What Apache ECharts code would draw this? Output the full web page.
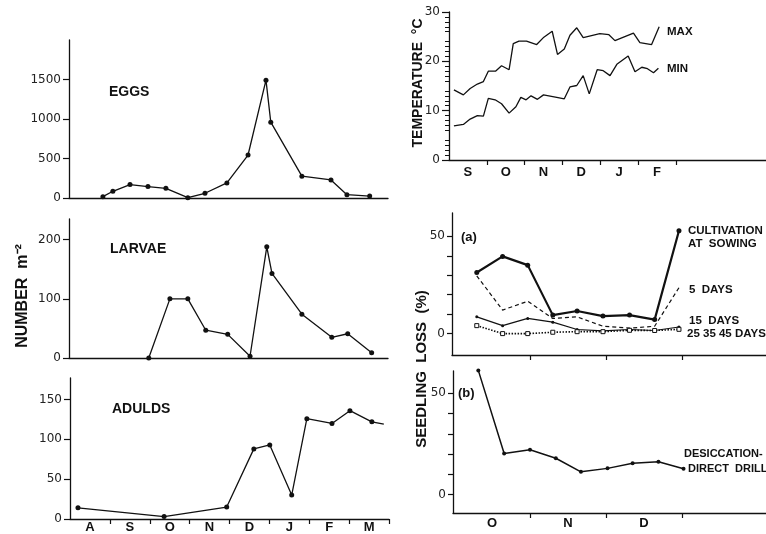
<!DOCTYPE html>
<html>
<head>
<meta charset="utf-8">
<script src="https://cdn.jsdelivr.net/npm/echarts@6/dist/echarts.min.js"></script>
<style>
  html, body { margin: 0; padding: 0; background: #fff; }
  #chart { width: 766px; height: 534px; }
</style>
</head>
<body>
<div id="chart"></div>
<script>
// month positions are in months from the start of the axis (Aug / Sep / Oct)
const seasonMonths = ['A', 'S', 'O', 'N', 'D', 'J', 'F', 'M'];
const tempMonths = ['S', 'O', 'N', 'D', 'J', 'F'];
const sowingMonths = ['O', 'N', 'D'];

const eggsMonth = [0.85, 1.10, 1.53, 1.98, 2.43, 2.98, 3.41, 3.96, 4.49, 4.94, 5.06, 5.84, 6.57, 6.97, 7.54];
const eggsValue = [17, 85, 170, 145, 123, 4, 60, 191, 544, 1492, 960, 276, 229, 42, 25];

const larvaeMonth = [2.00, 2.53, 2.98, 3.43, 3.98, 4.54, 4.96, 5.09, 5.84, 6.59, 6.99, 7.59];
const larvaeValue = [0, 100, 100, 47, 40, 3, 188, 143, 74, 35, 41, 9];

const adultsMonth = [0.20, 2.36, 3.93, 4.61, 5.01, 5.56, 5.94, 6.57, 7.02, 7.57, 7.87];
const adultsValue = [14, 3, 15, 88, 93, 30, 126, 120, 136, 122, 119];

const tempMaxMonth = [0.13, 0.38, 0.56, 0.75, 0.91, 1.04, 1.23, 1.39, 1.59, 1.70, 1.85, 2.05, 2.32, 2.51,
  2.73, 2.87, 3.05, 3.20, 3.38, 3.55, 3.99, 4.23, 4.39, 4.88, 5.05, 5.36, 5.56];
const tempMax = [14.2, 13.2, 14.5, 15.4, 15.9, 18.0, 18.0, 19.1, 18.3, 23.6, 24.1, 24.1, 23.4, 24.9,
  26.1, 21.4, 22.5, 25.3, 26.8, 24.8, 25.6, 25.4, 24.2, 25.7, 23.8, 23.4, 27.0];

const tempMinMonth = [0.13, 0.38, 0.56, 0.75, 0.91, 1.04, 1.22, 1.39, 1.59, 1.77, 1.90, 2.04, 2.17, 2.34,
  2.50, 2.85, 3.05, 3.20, 3.38, 3.55, 3.71, 3.92, 4.08, 4.26, 4.44, 4.74, 4.92, 5.10, 5.25, 5.41, 5.54];
const tempMin = [6.9, 7.2, 8.3, 9.0, 8.9, 12.5, 12.2, 11.4, 9.5, 10.8, 12.7, 12.2, 13.0, 12.3,
  13.2, 12.7, 12.4, 14.8, 15.1, 17.1, 13.4, 18.3, 18.1, 17.1, 19.4, 21.1, 17.9, 18.8, 18.5, 17.7, 18.6];

const sowingMonth = [0.30, 0.64, 0.97, 1.30, 1.62, 1.96, 2.31, 2.64, 2.96];
const cultivation = [31.4, 39.7, 35.2, 9.5, 11.6, 9.0, 9.5, 7.2, 52.9];
const days5 = [29.7, 12.1, 16.6, 7.8, 8.6, 3.8, 2.8, 3.8, 23.6];
const days15 = [8.6, 4.1, 7.8, 5.9, 2.1, 1.4, 2.1, 1.6, 3.4];
const days25 = [4.1, 0, 0, 0.7, 1.0, 1.0, 1.7, 1.6, 2.2];

const drillMonth = [0.32, 0.66, 1.00, 1.34, 1.67, 2.02, 2.35, 2.69, 3.02];
const desiccation = [61.3, 20.3, 22.2, 18.0, 11.3, 13.0, 15.5, 16.3, 12.8];

const INK = '#111';
const LABEL_FONT = 'Liberation Sans, Arial, sans-serif';
const TICK_FONT = 'DejaVu Sans, sans-serif';

const pairs = (xs, ys) => xs.map((x, i) => [x, ys[i]]);

const yAxisBase = (gridIndex, min, max, ticks, labels, tickLen, margin) => ({
  type: 'value',
  gridIndex,
  min,
  max,
  splitLine: { show: false },
  axisLine: { show: true, onZero: false, lineStyle: { color: INK, width: 1.3 } },
  axisTick: { show: true, length: tickLen || 5, customValues: ticks, lineStyle: { color: INK, width: 1.2 } },
  axisLabel: {
    customValues: labels,
    formatter: (v) => String(v),
    color: '#222',
    fontSize: 12,
    fontFamily: TICK_FONT,
    margin: margin || 8
  }
});

const xAxisBase = (gridIndex, min, max, ticks, labelPos, names, margin) => ({
  type: 'value',
  gridIndex,
  min,
  max,
  splitLine: { show: false },
  axisLine: { show: true, onZero: false, lineStyle: { color: INK, width: 1.3 } },
  axisTick: { show: ticks.length > 0, length: 5, customValues: ticks, lineStyle: { color: INK, width: 1.2 } },
  axisLabel: {
    show: labelPos.length > 0,
    customValues: labelPos,
    formatter: (v) => names[Math.floor(v)] || '',
    color: INK,
    fontSize: 13,
    fontWeight: 'bold',
    fontFamily: LABEL_FONT,
    margin: margin || 3
  }
});

const dotLine = (xi, data, width, size) => ({
  type: 'line',
  xAxisIndex: xi,
  yAxisIndex: xi,
  data,
  symbol: 'circle',
  symbolSize: size,
  showSymbol: true,
  clip: false,
  animation: false,
  lineStyle: { color: INK, width },
  itemStyle: { color: INK }
});

const adultsData = pairs(adultsMonth, adultsValue).map((p, i) =>
  i === adultsMonth.length - 1 ? { value: p, symbol: 'none' } : p);

const label = (text, x, y, size, align) => ({
  type: 'text',
  x,
  y,
  style: {
    text,
    fill: INK,
    font: 'bold ' + size + 'px ' + LABEL_FONT,
    textAlign: align || 'left',
    verticalAlign: 'middle'
  }
});

const vlabel = (text, x, y, size) => ({
  type: 'text',
  x,
  y,
  rotation: Math.PI / 2,
  style: {
    text,
    fill: INK,
    font: 'bold ' + size + 'px ' + LABEL_FONT,
    textAlign: 'center',
    verticalAlign: 'middle'
  }
});

const chart = echarts.init(document.getElementById('chart'));

chart.setOption({
  backgroundColor: '#fff',
  animation: false,
  grid: [
    { left: 69, top: 40, width: 319, height: 158 },
    { left: 69, top: 219, width: 319, height: 139 },
    { left: 70, top: 378, width: 319, height: 141 },
    { left: 449, top: 12, width: 317, height: 148 },
    { left: 452, top: 213, width: 314, height: 142 },
    { left: 453, top: 371, width: 313, height: 142 }
  ],
  xAxis: [
    xAxisBase(0, 0, 8, [], [], seasonMonths),
    xAxisBase(1, 0, 8, [], [], seasonMonths),
    xAxisBase(2, 0, 8, [1, 2, 3, 4, 5, 6, 7, 8], [0.5, 1.5, 2.5, 3.5, 4.5, 5.5, 6.5, 7.5], seasonMonths, 2),
    xAxisBase(3, 0, 8.386, [1, 2, 3, 4, 5, 6], [0.5, 1.5, 2.5, 3.5, 4.5, 5.5], tempMonths, 6),
    xAxisBase(4, -0.026, 4.105, [1, 2, 3], [], sowingMonths),
    xAxisBase(5, -0.013, 4.105, [1, 2, 3], [0.5, 1.5, 2.5], sowingMonths, 4)
  ],
  yAxis: [
    yAxisBase(0, 0, 2000, [0, 500, 1000, 1500], [0, 500, 1000, 1500], 6, 8),
    yAxisBase(1, 0, 235, [0, 100, 200], [0, 100, 200], 6, 8),
    yAxisBase(2, 0, 177, [0, 50, 100, 150], [0, 50, 100, 150], 6, 8),
    Object.assign(yAxisBase(3, 0, 30, [0, 10, 20, 30], [0, 10, 20, 30], 7, 9), {
      minorTick: { show: true, splitNumber: 5, length: 4, lineStyle: { color: INK, width: 1 } }
    }),
    yAxisBase(4, -11, 62, [0, 10, 20, 30, 40, 50], [0, 50], 5, 7),
    yAxisBase(5, -9, 61, [0, 10, 20, 30, 40, 50], [0, 50], 5, 7)
  ],
  series: [
    dotLine(0, pairs(eggsMonth, eggsValue), 1.3, 5),
    dotLine(1, pairs(larvaeMonth, larvaeValue), 1.3, 5),
    dotLine(2, adultsData, 1.3, 5),
    Object.assign(dotLine(3, pairs(tempMaxMonth, tempMax), 1.3, 0), { symbol: 'none' }),
    Object.assign(dotLine(3, pairs(tempMinMonth, tempMin), 1.3, 0), { symbol: 'none' }),
    dotLine(4, pairs(sowingMonth, cultivation), 2.2, 5),
    Object.assign(dotLine(4, pairs(sowingMonth, days5), 1.2, 0), {
      symbol: 'none',
      lineStyle: { color: INK, width: 1.2, type: [4, 3] }
    }),
    dotLine(4, pairs(sowingMonth, days15), 1.2, 3),
    Object.assign(dotLine(4, pairs(sowingMonth, days25), 1.6, 4), {
      symbol: 'rect',
      lineStyle: { color: INK, width: 1.6, type: [1.5, 1.5] },
      itemStyle: { color: '#fff', borderColor: INK, borderWidth: 1 }
    }),
    dotLine(5, pairs(drillMonth, desiccation), 1.5, 4)
  ],
  graphic: [
    label('EGGS', 109, 92, 14),
    label('LARVAE', 110, 249, 14),
    label('ADULDS', 112, 409, 14),
    vlabel('NUMBER  m⁻²', 23, 296, 16),
    vlabel('TEMPERATURE  °C', 418, 83, 14),
    vlabel('SEEDLING  LOSS  (%)', 422, 369, 15),
    label('MAX', 667, 32, 11.5),
    label('MIN', 667, 69, 11.5),
    label('(a)', 461, 237, 13),
    label('(b)', 458, 393, 13),
    label('CULTIVATION', 688, 231, 11.5),
    label('AT  SOWING', 688, 244, 11.5),
    label('5  DAYS', 689, 290, 11.5),
    label('15  DAYS', 689, 321, 11.5),
    label('25 35 45 DAYS', 687, 334, 11.5),
    label('DESICCATION-', 684, 454, 11),
    label('DIRECT  DRILL', 688, 469, 11)
  ]
});
</script>
</body>
</html>
